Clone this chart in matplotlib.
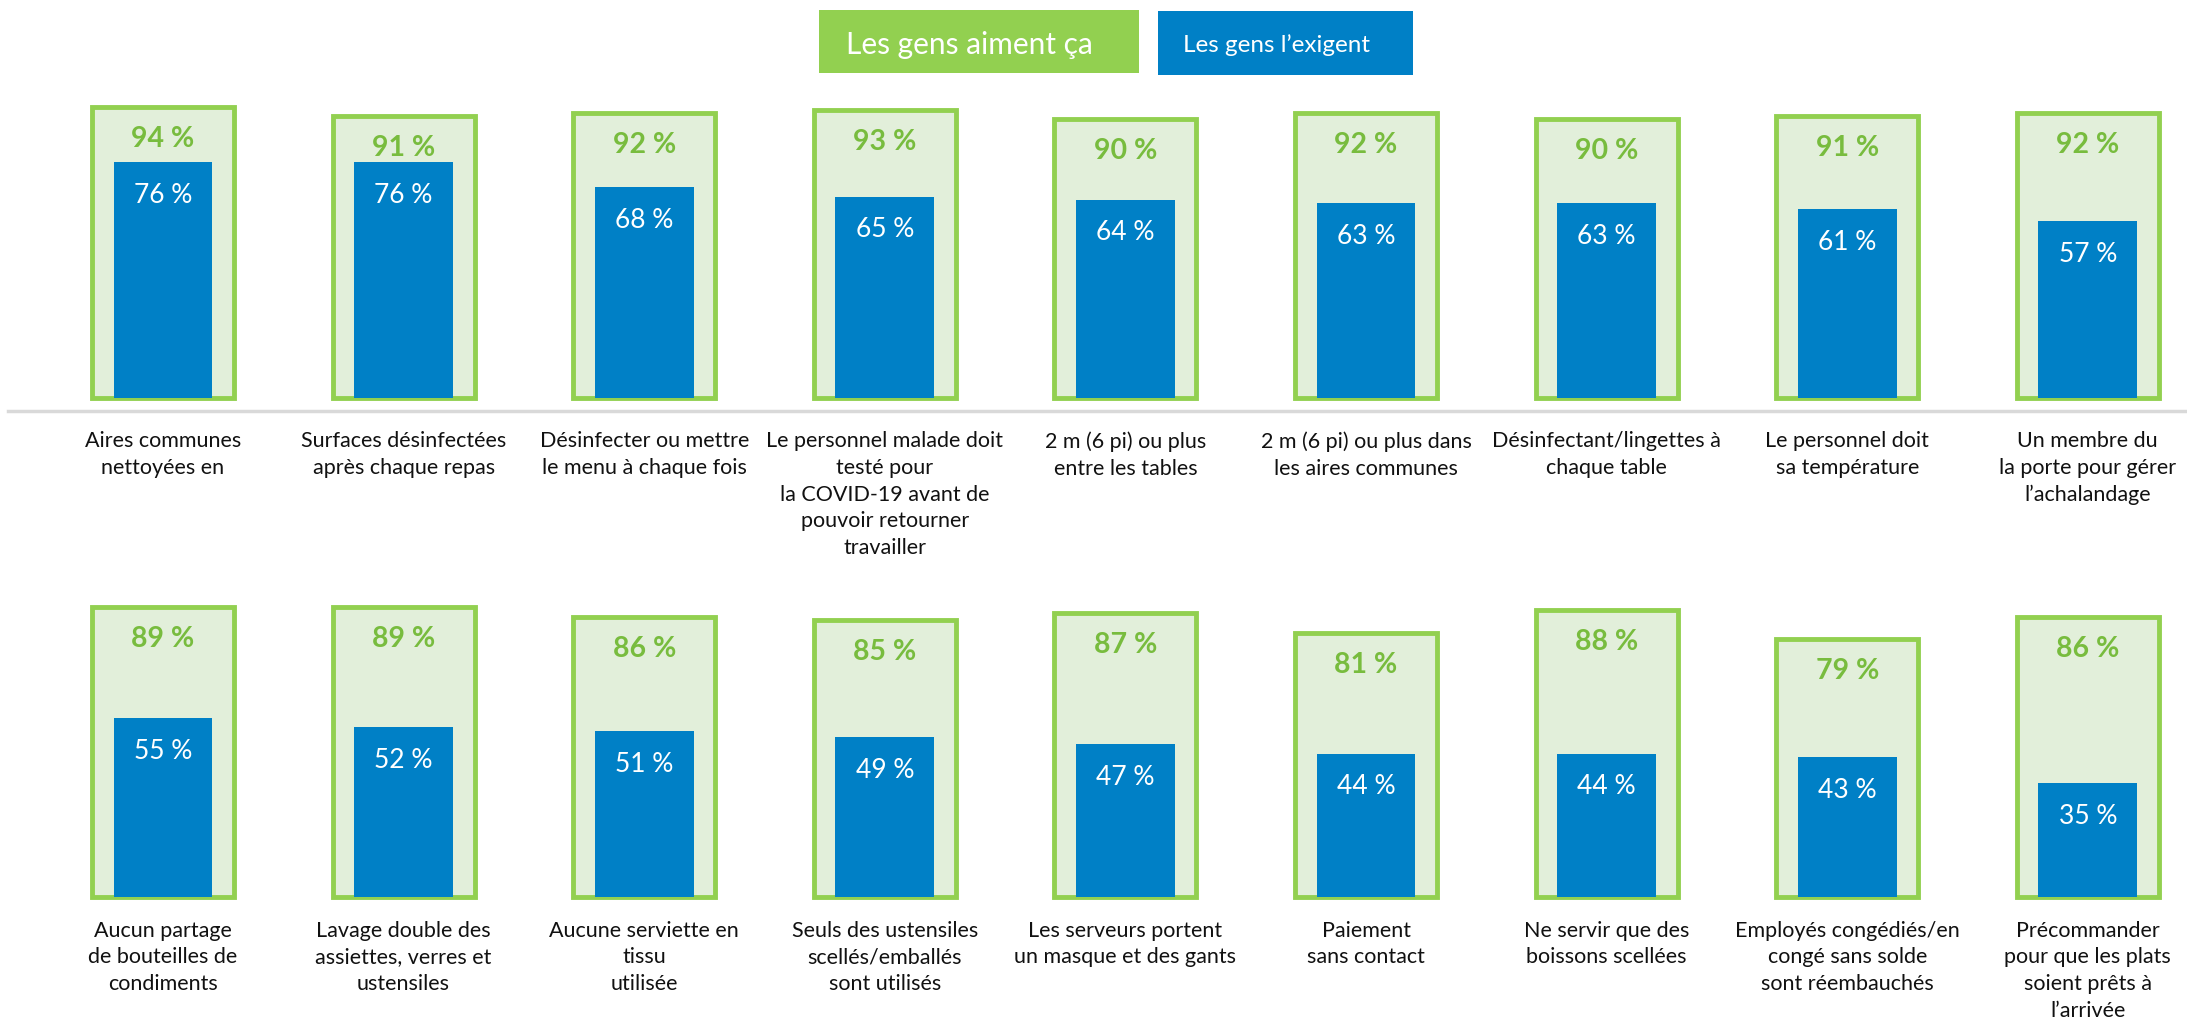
import matplotlib.pyplot as plt
from matplotlib.patches import Rectangle

# données
labels_top = [
    "Aires communes\nnettoyées en",
    "Surfaces désinfectées\naprès chaque repas",
    "Désinfecter ou mettre\nle menu à chaque fois",
    "Le personnel malade doit\ntesté pour\nla COVID-19 avant de\npouvoir retourner\ntravailler",
    "2 m (6 pi) ou plus\nentre les tables",
    "2 m (6 pi) ou plus dans\nles aires communes",
    "Désinfectant/lingettes à\nchaque table",
    "Le personnel doit\nsa température",
    "Un membre du\nla porte pour gérer\nl’achalandage",
]
aiment_top = [94, 91, 92, 93, 90, 92, 90, 91, 92]
exigent_top = [76, 76, 68, 65, 64, 63, 63, 61, 57]

labels_bottom = [
    "Aucun partage\nde bouteilles de\ncondiments",
    "Lavage double des\nassiettes, verres et\nustensiles",
    "Aucune serviette en\ntissu\nutilisée",
    "Seuls des ustensiles\nscellés/emballés\nsont utilisés",
    "Les serveurs portent\nun masque et des gants",
    "Paiement\nsans contact",
    "Ne servir que des\nboissons scellées",
    "Employés congédiés/en\ncongé sans solde\nsont réembauchés",
    "Précommander\npour que les plats\nsoient prêts à\nl’arrivée",
]
aiment_bottom = [89, 89, 86, 85, 87, 81, 88, 79, 86]
exigent_bottom = [55, 52, 51, 49, 47, 44, 44, 43, 35]

legend_labels = ["Les gens aiment ça", "Les gens l’exigent"]

GREEN = '#92d050'
GREEN_FILL = '#e2efda'
GREEN_TEXT = '#78bc3e'
BLUE = '#0080c6'

plt.rcParams['font.family'] = ['Lato', 'DejaVu Sans']

W, H = 2187, 1033
fig = plt.figure(figsize=(W / 100, H / 100), dpi=100)


def fx(px):
    return px / W


def fy(py):
    return 1 - py / H


def draw_row(base_py, full_px, aiment, exigent, labels, label_gap):
    ax = fig.add_axes([0, fy(base_py), 1, full_px / H])
    x = list(range(len(aiment)))
    ax.bar(x, aiment, width=0.59, color=GREEN_FILL, edgecolor=GREEN,
           linewidth=3.5, zorder=2, clip_on=False)
    ax.bar(x, exigent, width=0.41, color=BLUE, zorder=3, clip_on=False)
    for xi, a, e, lab in zip(x, aiment, exigent, labels):
        ax.annotate(f"{a} %", (xi, a), xytext=(0, -23), textcoords='offset points',
                    ha='center', va='center', fontsize=20.5, fontweight='bold',
                    color=GREEN_TEXT, zorder=4)
        ax.annotate(f"{e} %", (xi, e), xytext=(0, -24), textcoords='offset points',
                    ha='center', va='center', fontsize=19, color='white', zorder=4)
        ax.annotate(lab, (xi, 0), xytext=(0, -label_gap), textcoords='offset points',
                    ha='center', va='top', fontsize=15.5, color='#111111',
                    linespacing=1.42)
    ax.set_xlim(-163 / 240.6, (W - 163) / 240.6)
    ax.set_ylim(0, 100)
    ax.axis('off')
    return ax


draw_row(398, 310, aiment_top, exigent_top, labels_top, 24)
draw_row(897, 326, aiment_bottom, exigent_bottom, labels_bottom, 17)

# ligne de séparation
fig.add_artist(plt.Line2D([fx(8), 1], [fy(411), fy(411)], color='#d9d9d9',
                          linewidth=2.5, transform=fig.transFigure))

# légende
fig.patches.append(Rectangle((fx(819), fy(73)), fx(1139) - fx(819), (73 - 10) / H,
                             facecolor=GREEN, edgecolor='none', transform=fig.transFigure))
fig.patches.append(Rectangle((fx(1158), fy(75)), fx(1413) - fx(1158), (75 - 11) / H,
                             facecolor=BLUE, edgecolor='none', transform=fig.transFigure))
fig.text(fx(846), fy(45), legend_labels[0], color='white', fontsize=21.5, va='center')
fig.text(fx(1183), fy(45), legend_labels[1], color='white', fontsize=17.5, va='center')

fig.savefig('out.png', dpi=100, facecolor='white')
